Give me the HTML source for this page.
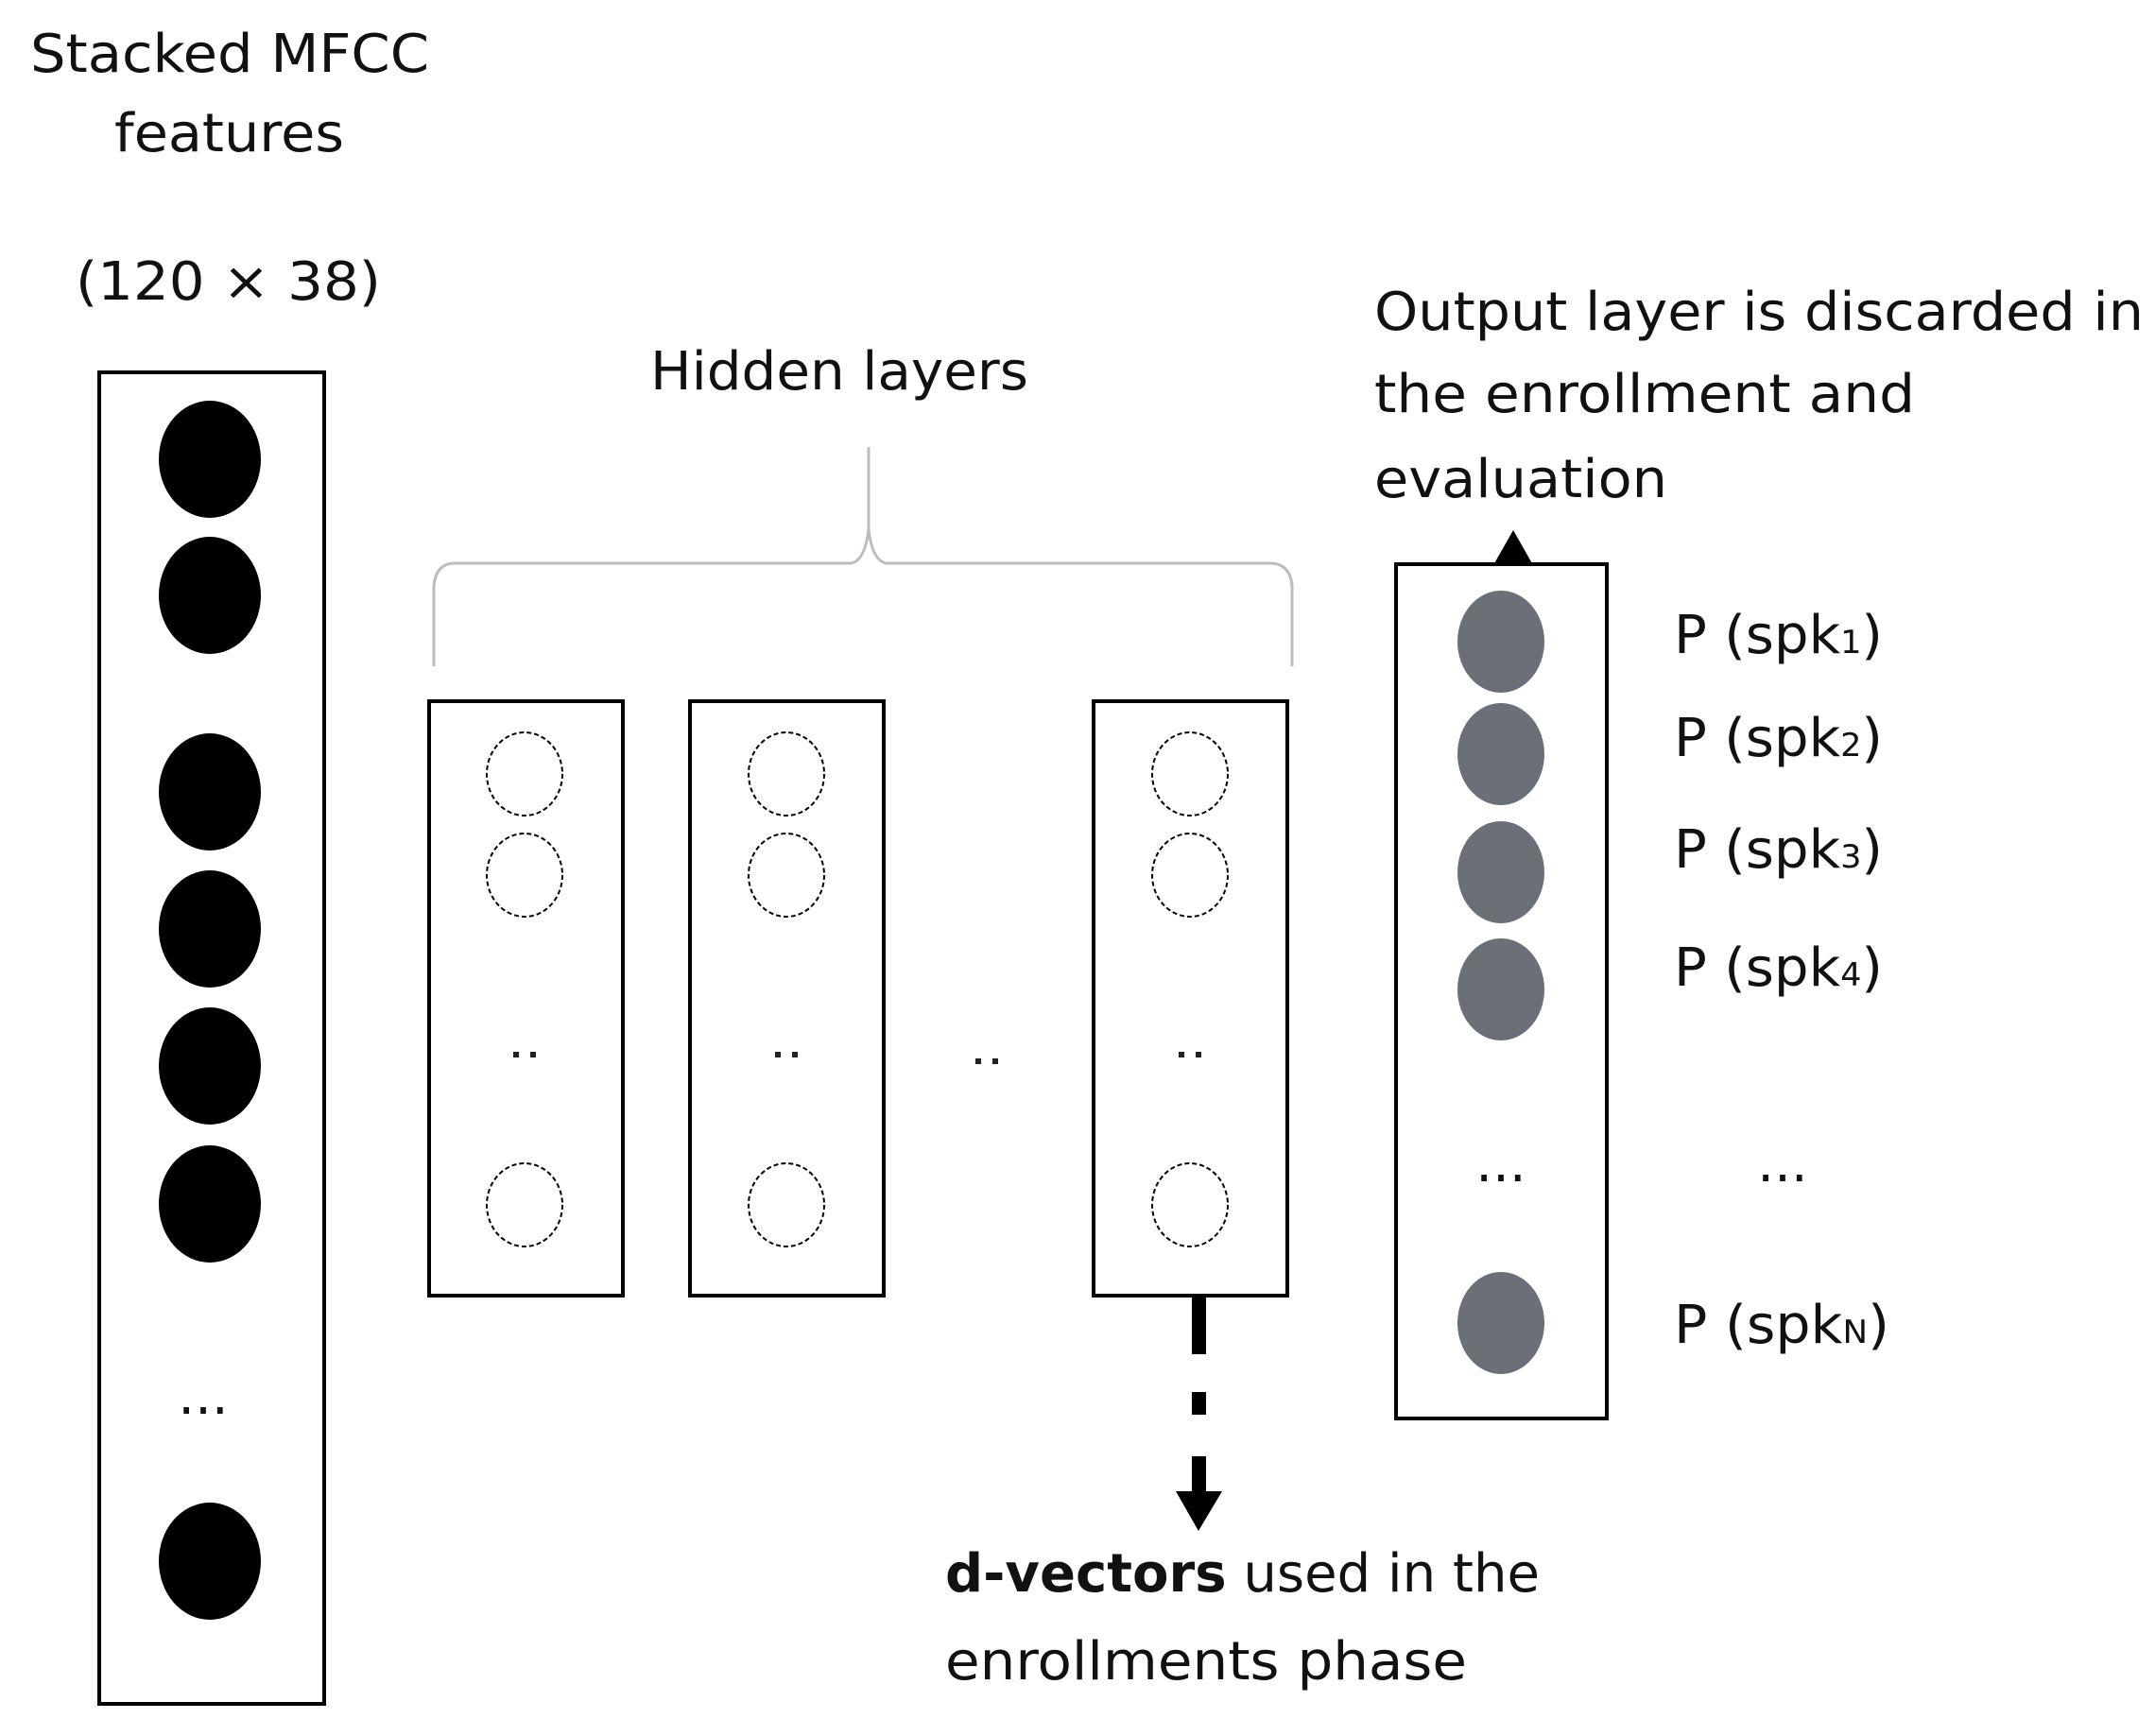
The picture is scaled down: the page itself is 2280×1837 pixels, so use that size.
<!DOCTYPE html>
<html><head><meta charset="utf-8"><style>
html,body{margin:0;padding:0;background:#fff;}
svg{display:block;}
text{font-family:"DejaVu Sans","Liberation Sans",sans-serif;font-size:56px;fill:#111;}
</style></head><body>
<svg width="2280" height="1837" viewBox="0 0 2280 1837" xmlns="http://www.w3.org/2000/svg">
<!-- top-left labels -->
<text x="32" y="76" textLength="422" lengthAdjust="spacingAndGlyphs">Stacked MFCC</text>
<text x="121" y="160" textLength="243" lengthAdjust="spacingAndGlyphs">features</text>
<text x="80" y="317" textLength="323" lengthAdjust="spacingAndGlyphs">(120 × 38)</text>

<!-- input box -->
<rect x="105" y="394" width="238" height="1409" fill="none" stroke="#000" stroke-width="4"/>
<g fill="#000">
<ellipse cx="222" cy="486" rx="54" ry="62"/>
<ellipse cx="222" cy="630" rx="54" ry="62"/>
<ellipse cx="222" cy="838" rx="54" ry="62"/>
<ellipse cx="222" cy="983" rx="54" ry="62"/>
<ellipse cx="222" cy="1128" rx="54" ry="62"/>
<ellipse cx="222" cy="1274" rx="54" ry="62"/>
<ellipse cx="222" cy="1652" rx="54" ry="62"/>
</g>
<text x="215" y="1496" text-anchor="middle" font-size="44">...</text>

<!-- hidden layers label & brace -->
<text x="688" y="412" textLength="400" lengthAdjust="spacingAndGlyphs">Hidden layers</text>
<path d="M459 705 L459 620 Q461 597 480 596 L900 596 Q915 594 919 560 L919 473 M919 560 Q923 594 938 596 L1345 596 Q1365 597 1367 620 L1367 705" fill="none" stroke="#bdbdbd" stroke-width="3"/>

<!-- hidden boxes -->
<g fill="none" stroke="#000" stroke-width="4">
<rect x="454" y="742" width="205" height="629"/>
<rect x="730" y="742" width="205" height="629"/>
<rect x="1157" y="742" width="205" height="629"/>
</g>
<g fill="none" stroke="#000" stroke-width="2" stroke-dasharray="5 3">
<ellipse cx="555" cy="819" rx="40" ry="44"/><ellipse cx="555" cy="926" rx="40" ry="44"/><ellipse cx="555" cy="1275" rx="40" ry="44"/>
<ellipse cx="832" cy="819" rx="40" ry="44"/><ellipse cx="832" cy="926" rx="40" ry="44"/><ellipse cx="832" cy="1275" rx="40" ry="44"/>
<ellipse cx="1259" cy="819" rx="40" ry="44"/><ellipse cx="1259" cy="926" rx="40" ry="44"/><ellipse cx="1259" cy="1275" rx="40" ry="44"/>
</g>
<g fill="#222">
<rect x="543" y="1113" width="6" height="6"/><rect x="561" y="1113" width="6" height="6"/>
<rect x="820" y="1113" width="6" height="6"/><rect x="838" y="1113" width="6" height="6"/>
<rect x="1247" y="1113" width="6" height="6"/><rect x="1265" y="1113" width="6" height="6"/>
<rect x="1032" y="1120" width="6" height="6"/><rect x="1050" y="1120" width="6" height="6"/>
</g>

<!-- d-vector arrow -->
<g fill="#000">
<rect x="1261" y="1371" width="15" height="62"/>
<rect x="1261" y="1473" width="15" height="24"/>
<rect x="1261" y="1541" width="15" height="40"/>
<polygon points="1244,1578 1293,1578 1268,1620"/>
</g>
<text x="1000" y="1684" textLength="629" lengthAdjust="spacingAndGlyphs"><tspan font-weight="bold">d-vectors</tspan> used in the</text>
<text x="1000" y="1777" textLength="552" lengthAdjust="spacingAndGlyphs">enrollments phase</text>

<!-- output text -->
<text x="1454" y="349" textLength="814" lengthAdjust="spacingAndGlyphs">Output layer is discarded in</text>
<text x="1454" y="436" textLength="572" lengthAdjust="spacingAndGlyphs">the enrollment and</text>
<text x="1454" y="526" textLength="310" lengthAdjust="spacingAndGlyphs">evaluation</text>

<!-- output box -->
<polygon points="1580,598 1622,598 1601,561" fill="#000"/>
<rect x="1477" y="597" width="223" height="904" fill="none" stroke="#000" stroke-width="4"/>
<g fill="#6b6f78">
<ellipse cx="1588" cy="679" rx="46" ry="54"/>
<ellipse cx="1588" cy="798" rx="46" ry="54"/>
<ellipse cx="1588" cy="923" rx="46" ry="54"/>
<ellipse cx="1588" cy="1047" rx="46" ry="54"/>
<ellipse cx="1588" cy="1400" rx="46" ry="54"/>
</g>
<text x="1588" y="1250" text-anchor="middle" font-size="44">...</text>
<text x="1886" y="1250" text-anchor="middle" font-size="44">...</text>
<text x="1771" y="691" textLength="221" lengthAdjust="spacingAndGlyphs">P (spk<tspan font-size="34">1</tspan>)</text>
<text x="1771" y="800" textLength="221" lengthAdjust="spacingAndGlyphs">P (spk<tspan font-size="34">2</tspan>)</text>
<text x="1771" y="918" textLength="221" lengthAdjust="spacingAndGlyphs">P (spk<tspan font-size="34">3</tspan>)</text>
<text x="1771" y="1043" textLength="221" lengthAdjust="spacingAndGlyphs">P (spk<tspan font-size="34">4</tspan>)</text>
<text x="1771" y="1421" textLength="228" lengthAdjust="spacingAndGlyphs">P (spk<tspan font-size="34">N</tspan>)</text>
</svg>
</body></html>
